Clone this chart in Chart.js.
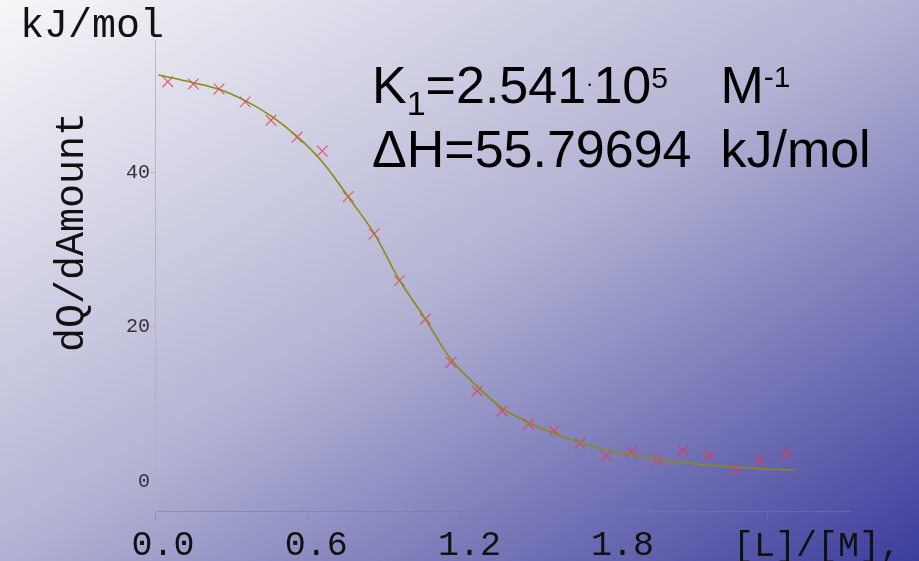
<!DOCTYPE html>
<html><head><meta charset="utf-8">
<script src="https://cdn.jsdelivr.net/npm/chart.js@4.4.0/dist/chart.umd.min.js"></script>
<style>
html,body{margin:0;padding:0;background:#fff;}
#wrap{position:relative;width:919px;height:561px;overflow:hidden;
 background:linear-gradient(to bottom right,#f7f7f9 0%,#b2b2d3 50%,#3d3d9d 100%);}
canvas{display:block;}
</style></head><body>
<div id="wrap"><canvas id="c" width="919" height="561"></canvas></div>
<script>
// Measured titration points: molar ratio [L]/[M] vs heat per injection (kJ/mol)
const ratioLM = [0.050,0.150,0.251,0.353,0.454,0.556,0.655,0.757,0.858,0.957,1.059,1.159,1.262,1.360,1.464,1.563,1.665,1.767,1.866,1.967,2.068,2.169,2.271,2.370,2.472];
const heatObs = [51.71,51.42,50.77,49.10,46.72,44.52,42.75,36.85,32.02,25.99,21.03,15.44,11.73,9.15,7.47,6.59,4.96,3.32,3.88,2.81,4.01,3.36,1.68,2.81,3.58];
// Fitted curve
const fitRatio = [0.013,0.150,0.251,0.353,0.454,0.556,0.655,0.757,0.858,0.957,1.059,1.159,1.266,1.360,1.464,1.563,1.665,1.767,1.866,1.967,2.068,2.169,2.271,2.370,2.507];
const fitHeat  = [52.58,51.58,50.73,49.26,47.28,44.65,41.37,36.81,32.11,26.08,21.03,15.82,12.20,9.49,7.63,6.26,5.04,4.10,3.45,2.90,2.46,2.16,1.86,1.68,1.47];
const xTickValues = [0,0.6,1.2,1.8,2.4];
const xTickLabels = ['0.0','0.6','1.2','1.8',''];
const yTickValues = [0,20,40];
const yTitle = 'dQ/dAmount';
const unitLabel = 'kJ/mol';
const xTitle = '[L]/[M],';

const MONO = '"Liberation Mono","Courier New",monospace';
const SANS = '"Liberation Sans",Arial,sans-serif';

const textPlugin = {
  id: 'texts',
  afterDraw(chart) {
    const ctx = chart.ctx;
    ctx.save();
    ctx.fillStyle = '#111';
    ctx.textBaseline = 'alphabetic';
    ctx.font = '40px ' + MONO;
    ctx.textAlign = 'left';
    ctx.fillText(unitLabel, 20, 37);
    ctx.font = '35px ' + MONO;
    ctx.fillText(xTitle, 733, 556);
    ctx.save();
    ctx.translate(83, 232);
    ctx.rotate(-Math.PI / 2);
    ctx.font = '40px ' + MONO;
    ctx.textAlign = 'center';
    ctx.fillText(yTitle, 0, 0);
    ctx.restore();
    ctx.fillStyle = '#000';
    ctx.textAlign = 'left';
    function runs(x, y, parts) {
      for (const [t, size, dy] of parts) {
        ctx.font = size + 'px ' + SANS;
        ctx.fillText(t, x, y + dy);
        x += ctx.measureText(t).width;
      }
      return x;
    }
    ctx.font = '52px ' + SANS;
    const kStart = 372 + ctx.measureText('\u0394H=55.79694  ').width;
    runs(372, 103, [['K',52,0],['1',34,12],['=2.541',52,0],['\u00B7',22,-12],['10',52,0],['5',30,-15]]);
    runs(kStart, 103, [['M',52,0],['-1',30,-16]]);
    runs(372, 167, [['\u0394H=55.79694  kJ/mol',52,0]]);
    ctx.restore();
  }
};

new Chart(document.getElementById('c'), {
  type: 'scatter',
  data: {
    datasets: [
      {
        label: 'fit',
        data: fitRatio.map((x, i) => ({x, y: fitHeat[i]})),
        showLine: true,
        borderColor: '#8a8a16',
        borderWidth: 1.6,
        pointRadius: 0,
        tension: 0.35,
        fill: false
      },
      {
        label: 'data',
        data: ratioLM.map((x, i) => ({x, y: heatObs[i]})),
        showLine: false,
        pointStyle: 'crossRot',
        pointRadius: 7.5,
        pointBorderWidth: 1.2,
        borderColor: 'rgba(235,55,80,0.8)',
        backgroundColor: 'rgba(235,55,80,0.8)'
      }
    ]
  },
  options: {
    responsive: false,
    animation: false,
    devicePixelRatio: 1,
    layout: {padding: {top: 40, right: 69, left: 0, bottom: 0}},
    plugins: {legend: {display: false}, tooltip: {enabled: false}},
    scales: {
      x: {
        type: 'linear',
        min: 0, max: 2.722,
        afterBuildTicks: s => { s.ticks = xTickValues.map(v => ({value: v})); },
        afterFit: s => { s.height = 50; },
        border: {display: true, color: 'rgba(120,120,165,0.55)', width: 1},
        grid: {drawOnChartArea: false, drawTicks: true, tickLength: 9, color: 'rgba(120,120,165,0.45)'},
        ticks: {
          color: '#111',
          font: {family: MONO, size: 35},
          padding: 5,
          labelOffset: 8,
          maxRotation: 0,
          autoSkip: false,
          callback: (v) => xTickLabels[xTickValues.indexOf(v)] ?? ''
        }
      },
      y: {
        type: 'linear',
        min: -3.79, max: 57.1,
        afterBuildTicks: s => { s.ticks = yTickValues.map(v => ({value: v})); },
        afterFit: s => { s.width = 155; },
        border: {display: true, color: 'rgba(175,175,190,0.8)', width: 1},
        grid: {drawOnChartArea: false, drawTicks: true, tickLength: 5, color: 'rgba(175,175,190,0.8)'},
        ticks: {
          color: '#333',
          font: {family: MONO, size: 20},
          padding: 0,
          autoSkip: false,
          callback: v => String(v)
        }
      }
    }
  },
  plugins: [textPlugin]
});
</script>
</body></html>
